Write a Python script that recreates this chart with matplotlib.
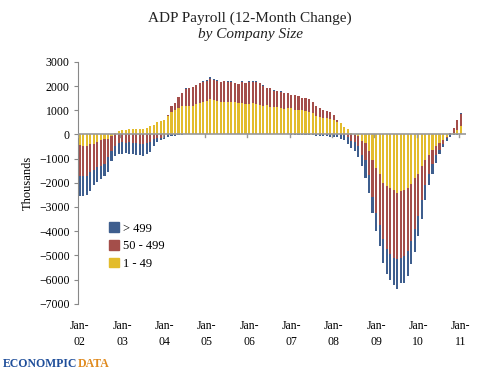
import numpy as np
import matplotlib
matplotlib.use("Agg")
import matplotlib.pyplot as plt
from matplotlib.patches import Patch

# ADP payroll, 12-month change in thousands, Jan 2002 .. Jan 2011 (monthly)
years = ['02', '03', '04', '05', '06', '07', '08', '09', '10', '11']
tick_labels = ['Jan-\n' + y for y in years]

small = [-450, -480, -460, -400, -380, -300, -250, -200, -200, -50, 50, 140,
         180, 200, 220, 210, 220, 210, 230, 270, 350, 400, 500, 545,
         610, 750, 925, 1020, 1090, 1160, 1160, 1180, 1180, 1250, 1320, 1360,
         1390, 1460, 1430, 1400, 1360, 1360, 1360, 1360, 1330, 1290, 1310, 1250,
         1270, 1280, 1270, 1220, 1180, 1200, 1140, 1130, 1120, 1090, 1060, 1090,
         1090, 1020, 1030, 1000, 970, 925, 880, 780, 730, 690, 670, 625,
         585, 520, 460, 310, 220, 80, -30, -50, -260, -370, -670, -1070,
         -1370, -1620, -2000, -2140, -2230, -2300, -2410, -2340, -2300, -2230, -2030, -1820,
         -1620, -1320, -1070, -840, -640, -460, -350, -230, -120, 20, 80, 180,
         350]

mid = [-1250, -1220, -1240, -1160, -1110, -1060, -1060, -1020, -750, -630, -480, -340,
       -300, -340, -300, -340, -370, -380, -410, -340, -300, -200, -140, -140,
       -70, 70, 235, 270, 470, 540, 720, 720, 770, 790, 790, 820,
       810, 850, 820, 800, 790, 830, 820, 820, 780, 780, 870, 860,
       910, 900, 910, 890, 830, 700, 760, 680, 680, 680, 640, 610,
       540, 590, 550, 500, 530, 535, 480, 380, 345, 340, 300, 300,
       215, 80, 30, -20, -120, -260, -300, -430, -610, -700, -1020, -1500,
       -1880, -2110, -2340, -2610, -2720, -2790, -2720, -2750, -2720, -2590, -2380, -2110,
       -1740, -1390, -1030, -780, -570, -410, -290, -170, -30, 60, 170, 420,
       510]

large = [-860, -860, -820, -780, -620, -590, -530, -480, -610, -410, -400, -480,
         -490, -420, -510, -480, -460, -490, -470, -470, -420, -280, -160, -100,
         -130, -100, -70, -50, -30, -20, 20, 10, 10, 20, 20, 20,
         30, 50, 40, 30, 10, 10, 20, 20, 20, 10, 20, 10,
         30, 30, 20, 20, 30, 40, 30, 10, 0, 10, 20, 10,
         -20, -20, -20, -20, -30, -30, -40, -50, -70, -80, -80, -90,
         -100, -120, -190, -210, -280, -300, -340, -460, -450, -750, -750, -680,
         -750, -880, -980, -1020, -1050, -1150, -1250, -1050, -1120, -1020, -950, -930,
         -820, -790, -610, -480, -440, -310, -160, -130, -140, -100, -30, -20,
         40]

series = [(small, '1 - 49', '#E3BC2C'),
          (mid, '50 - 499', '#A44E4A'),
          (large, '> 499', '#3E5E8E')]

serif = ['Liberation Serif', 'DejaVu Serif']
plt.rcParams['font.family'] = serif

fig = plt.figure(figsize=(5, 3.75), dpi=100)
ax = fig.add_axes([0.156, 0.19, 0.776, 0.645])

x = np.arange(len(small))
pos_base = np.zeros(len(x))
neg_base = np.zeros(len(x))
for vals, name, col in series:
    v = np.array(vals, dtype=float)
    bottom = np.where(v >= 0, pos_base, neg_base)
    ax.bar(x, v, 0.6, bottom=bottom, color=col, linewidth=0, zorder=2)
    pos_base = pos_base + np.clip(v, 0, None)
    neg_base = neg_base + np.clip(v, None, 0)

ax.set_xlim(-0.5, 109.5)
ax.set_ylim(-7000, 3000)
ax.set_yticks(np.arange(-7000, 3001, 1000))
ax.tick_params(axis='y', labelsize=8.5, length=3, color='#888888', pad=3)

# category axis crosses at zero; labels at the bottom
ax.axhline(0, color='#999999', lw=1.2, zorder=3)
for m in range(0, 109, 12):
    ax.plot([m - 0.5, m - 0.5], [0, -110], color='#999999', lw=1, zorder=3)
ax.set_xticks(np.arange(0, 109, 12))
ax.set_xticklabels(tick_labels, fontsize=8.5, linespacing=1.45)
ax.tick_params(axis='x', length=0, pad=12)

for s in ['top', 'right', 'bottom']:
    ax.spines[s].set_visible(False)
ax.spines['left'].set_color('#888888')
ax.set_ylabel('Thousands', fontsize=9, labelpad=4)

handles = [Patch(color=c, label=n) for _, n, c in series[::-1]]
fig.legend(handles=handles, loc='upper left', bbox_to_anchor=(0.196, 0.437),
           frameon=False, fontsize=9, handlelength=0.8, handleheight=0.8,
           handletextpad=0.3, labelspacing=0.45)

fig.text(0.5, 0.952, 'ADP Payroll (12-Month Change)', ha='center', va='center',
         fontsize=11, color='#222222')
fig.text(0.5, 0.907, 'by Company Size', ha='center', va='center',
         fontsize=11, style='italic', color='#222222')

# logo text, second word placed right after the first
logo = fig.text(0.006, 0.03, 'ECONOMPIC', ha='left', va='center', fontsize=8.5,
                fontweight='bold', color='#1F4E9A')
fig.canvas.draw()
bb = logo.get_window_extent().transformed(fig.transFigure.inverted())
fig.text(bb.x1, 0.03, 'DATA', ha='left', va='center', fontsize=8.5,
         fontweight='bold', color='#E08A1E')

fig.savefig('out.png', dpi=100)
